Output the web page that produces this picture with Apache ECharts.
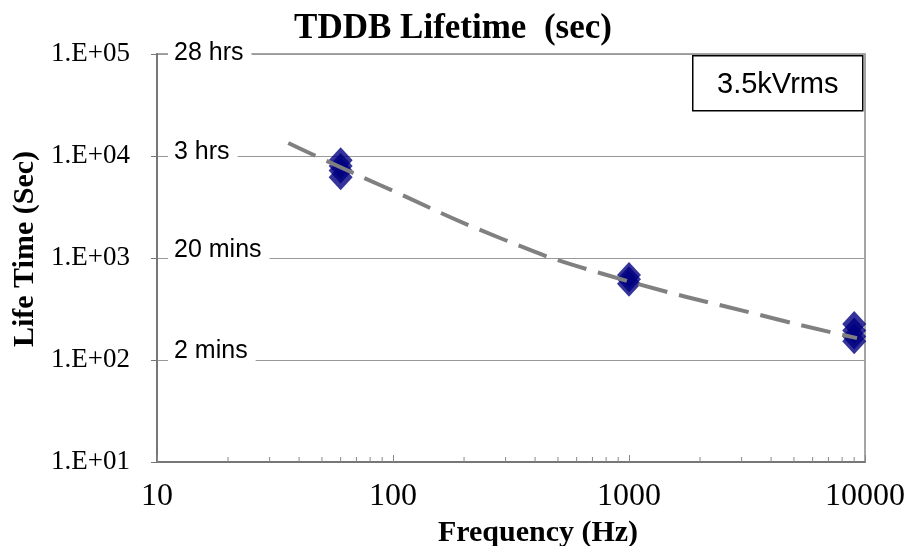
<!DOCTYPE html>
<html lang="en">
<head>
    <meta charset="UTF-8">
    <title>TDDB Lifetime</title>
    <script src='https://cdn.jsdelivr.net/npm/echarts@6/dist/echarts.min.js'></script>
</head>
<body style="margin: 0">
<div id="chart" style="width: 906px;height: 546px"></div>

<script>
    // measured lifetimes, grouped by test frequency
    let freqs = [60, 60, 60, 60, 1000, 1000, 1000, 9000, 9000, 9000, 9000];
    let lifetimes = [9100, 8000, 7200, 6200, 680, 620, 560, 225, 195, 170, 153];

    // dashed trend curve
    let trendFreqs = [36, 48, 88, 284, 753, 4036, 9250];
    let trendLife = [13400, 9800, 5200, 1570, 713, 258, 164];

    // minor ticks on the frequency axis
    let minorTicks = [20, 30, 40, 50, 60, 70, 80, 90,
                      200, 300, 400, 500, 600, 700, 800, 900,
                      2000, 3000, 4000, 5000, 6000, 7000, 8000, 9000];

    // time hints next to the y gridlines
    let hintTexts = ['28 hrs', '3 hrs', '20 mins', '2 mins'];
    let hintY = [55, 154, 252, 353];

    let serif = '"Liberation Serif", "Times New Roman", serif';
    let sans = '"Liberation Sans", Arial, sans-serif';

    let chart = echarts.init(document.getElementById('chart'));

    let points = freqs.map((f, i) => [f, lifetimes[i]]);
    let trend = trendFreqs.map((f, i) => [f, trendLife[i]]);

    let graphics = hintTexts.map((t, i) => ({
        type: 'text',
        left: 168,
        top: hintY[i] - 15,
        z: 100,
        style: {
            text: t,
            font: '25px ' + sans,
            fill: '#000',
            backgroundColor: '#fff',
            padding: [1, 8, 1, 6]
        }
    }));
    graphics.push({
        type: 'group',
        left: 692,
        top: 55,
        z: 100,
        children: [
            {
                type: 'rect',
                shape: { x: 0, y: 0, width: 170, height: 55 },
                style: { fill: '#fff', stroke: '#000', lineWidth: 1.5 }
            },
            {
                type: 'text',
                x: 85,
                y: 29,
                style: {
                    text: '3.5kVrms',
                    font: '29px ' + sans,
                    fill: '#000',
                    align: 'center',
                    verticalAlign: 'middle'
                }
            }
        ]
    });

    let option = {
        animation: false,
        backgroundColor: '#fff',
        title: {
            text: 'TDDB Lifetime  (sec)',
            left: 'center',
            top: 6,
            textStyle: {
                fontFamily: serif,
                fontWeight: 'bold',
                fontSize: 35,
                color: '#000'
            }
        },
        grid: {
            left: 157,
            right: 41,
            top: 54,
            bottom: 84,
            outerBoundsMode: 'none',
            containLabel: false,
            show: true,
            borderColor: '#888',
            borderWidth: 1.5
        },
        xAxis: {
            type: 'log',
            logBase: 10,
            min: 10,
            max: 10000,
            name: 'Frequency (Hz)',
            nameLocation: 'middle',
            nameGap: 53,
            nameTextStyle: {
                fontFamily: serif,
                fontWeight: 'bold',
                fontSize: 30,
                color: '#000',
                padding: [0, 0, 0, 54]
            },
            axisLine: { lineStyle: { color: '#777', width: 2 } },
            axisTick: { inside: true, length: 7, lineStyle: { color: '#888' } },
            axisLabel: {
                margin: 19,
                fontFamily: serif,
                fontSize: 32,
                color: '#000',
                formatter: function (v) {
                    return String(Math.round(v));
                }
            },
            splitLine: { show: false }
        },
        yAxis: {
            type: 'log',
            logBase: 10,
            min: 10,
            max: 100000,
            name: 'Life Time (Sec)',
            nameLocation: 'middle',
            nameGap: 112,
            nameTextStyle: {
                fontFamily: serif,
                fontWeight: 'bold',
                fontSize: 30,
                color: '#000',
                padding: [0, 0, 0, 18]
            },
            axisLine: { lineStyle: { color: '#777', width: 2 } },
            axisTick: { length: 6, lineStyle: { color: '#777' } },
            axisLabel: {
                margin: 27,
                fontFamily: serif,
                fontSize: 27,
                color: '#000',
                formatter: function (v) {
                    let e = Math.round(Math.log10(v));
                    return '1.E+' + (e < 10 ? '0' : '') + e;
                }
            },
            splitLine: { lineStyle: { color: '#999', width: 1 } }
        },
        graphic: graphics,
        series: [
            {
                name: 'minor ticks',
                type: 'custom',
                silent: true,
                data: minorTicks.map(v => [v, 10]),
                renderItem: function (params, api) {
                    let p = api.coord([api.value(0), api.value(1)]);
                    return {
                        type: 'line',
                        shape: { x1: p[0], y1: p[1], x2: p[0], y2: p[1] - 5 },
                        style: { stroke: '#888', lineWidth: 1 }
                    };
                }
            },
            {
                name: 'lifetime',
                type: 'scatter',
                data: points,
                symbol: 'diamond',
                symbolSize: [24, 26],
                itemStyle: { color: '#000080' },
                z: 3
            },
            {
                name: 'trend',
                type: 'line',
                data: trend,
                smooth: true,
                showSymbol: false,
                lineStyle: { color: '#808080', width: 4, type: [30, 12] },
                z: 4
            }
        ]
    };
    chart.setOption(option);
</script>
</body>
</html>
